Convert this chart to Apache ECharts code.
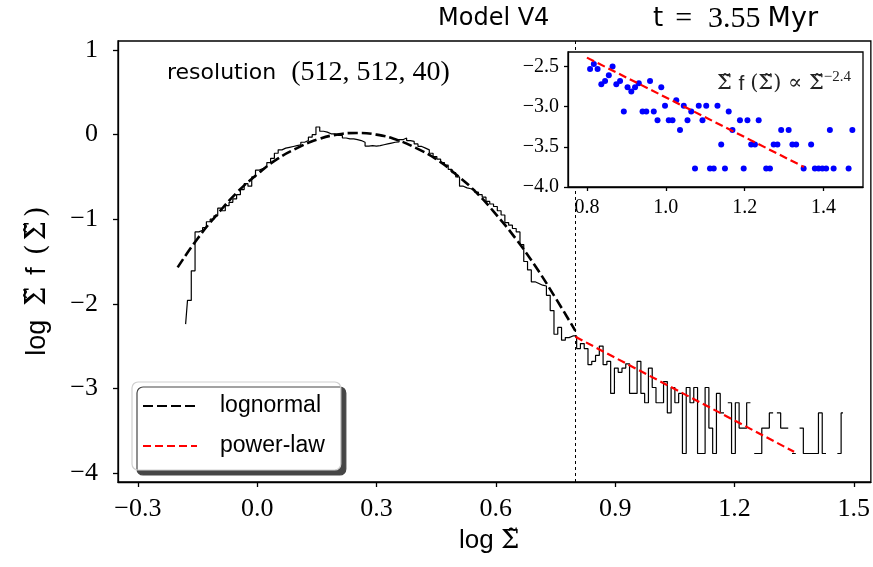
<!DOCTYPE html>
<html><head><meta charset="utf-8">
<script src="https://cdn.jsdelivr.net/npm/echarts@6/dist/echarts.min.js"></script>
<style>html,body{margin:0;padding:0;background:#fff}#c{width:873px;height:567px}</style>
</head><body><div id="c"></div>
<script>
// ---- data ----
const binStart = -0.18;      // centre of first histogram bin (log Sigma)
const binWidth = 0.0095;     // histogram bin width (log Sigma)
const histCore = [
 -2.24,-1.96,-1.61,-1.15,-1.13,-1.10,-1.03,-1.00,-0.96,-0.87,
 -0.90,-0.84,-0.80,-0.76,-0.71,-0.65,-0.58,-0.61,-0.50,-0.42,
 -0.40,-0.38,-0.33,-0.28,-0.22,-0.18,-0.16,-0.15,-0.14,-0.13,
 -0.12,-0.09,-0.07,-0.03,0.00,0.09,0.04,0.03,0.01,0.01,
 -0.01,-0.01,-0.04,-0.05,-0.05,-0.06,-0.07,-0.09,-0.135,-0.13,
 -0.135,-0.13,-0.12,-0.11,-0.10,-0.09,-0.085,-0.06,-0.04,-0.07,
 -0.08,-0.11,-0.14,-0.16,-0.18,-0.22,-0.26,-0.29,-0.33,-0.36,
 -0.41,-0.45,-0.50,-0.61,-0.63,-0.64,-0.65,-0.68,-0.71,-0.74,
 -0.79,-0.82,-0.85,-0.90,-0.95,-1.04,-1.07,-1.11,-1.15,-1.30,
 -1.50,-1.60,-1.74,-1.76,-1.78,-1.79,-1.90,-2.08,-2.36,-2.28,
 -2.43,-2.40,-2.38,-2.38
];
const histTail = [
 -2.53,-2.47,-2.53,-2.72,-2.68,-2.61,-2.50,-2.72,-2.68,-3.06,
 -2.76,-2.81,-2.76,-2.71,-3.06,-3.06,-2.68,-3.06,-3.17,-2.76,
 -2.99,-3.17,-3.17,-2.92,-3.29,-2.99,-3.17,-3.06,-3.77,-2.99,
 -3.17,-2.99,-3.77,-3.77,-2.99,-3.47,-3.77,-3.06,-3.29,null,
 -3.17,-3.77,-3.17,-3.47,-3.47,-3.17,null,-3.77,-3.77,-3.47,
 -3.47,-3.29,null,-3.29,-3.47,-3.47,null,-3.77,null,-3.47,
 -3.77,-3.77,-3.77,-3.77,-3.29,-3.77,null,null,null,-3.77,
 -3.29
];
const lognormalX = [-0.20,-0.15,-0.10,-0.05,0.00,0.05,0.10,0.15,0.20,0.25,0.30,0.35,0.40,0.45,0.50,0.55,0.60,0.65,0.70,0.75,0.80];
const lognormalY = [-1.57,-1.23,-0.94,-0.68,-0.47,-0.29,-0.16,-0.06,0.00,0.02,0.00,-0.06,-0.16,-0.29,-0.47,-0.68,-0.94,-1.23,-1.56,-1.93,-2.32];
const powerLawX = [0.80, 1.35];
const powerLawY = [-2.39, -3.75];
const cutoff = 0.8;
const mainXTicks = [-0.3, 0.0, 0.3, 0.6, 0.9, 1.2, 1.5];
const mainYTicks = [-4, -3, -2, -1, 0, 1];
const insetXTicks = [0.8, 1.0, 1.2, 1.4];
const insetYTicks = [-4.0, -3.5, -3.0, -2.5];

// ---- build ----
const histAll = histCore.concat(histTail);
const histData = histAll.map((v, k) => [binStart + binWidth * k, v === null ? '-' : v]);
const insetData = [];
histTail.forEach((v, n) => {
  if (v !== null) insetData.push([binStart + binWidth * (histCore.length + n), v]);
});
const lognormalData = lognormalX.map((x, i) => [x, lognormalY[i]]);
const powerData = powerLawX.map((x, i) => [x, powerLawY[i]]);

const SERIF = "'Liberation Serif','DejaVu Serif',serif";
const MATH = "'DejaVu Serif',serif";
const SANS = "'Liberation Sans','DejaVu Sans',sans-serif";
const WSANS = "'DejaVu Sans',sans-serif";
const minus = s => s.replace('-', '\u2212');
const f1 = v => minus((Math.round(v * 10) / 10).toFixed(1));
const f0 = v => minus(String(Math.round(v)));
const ST = '\u03A3\u0303';

const axisCommon = (ticks, fmt, size, margin, len) => ({
  type: 'value',
  splitLine: { show: false },
  axisLine: { show: true, onZero: false, lineStyle: { color: '#000', width: 1.3 } },
  axisTick: { show: true, length: len, customValues: ticks, lineStyle: { color: '#000', width: 1.3 } },
  axisLabel: { customValues: ticks, formatter: fmt, fontFamily: SERIF, fontSize: size, color: '#000', margin: margin }
});

const chart = echarts.init(document.getElementById('c'), null, { renderer: 'canvas' });
const option = {
  animation: false,
  backgroundColor: '#fff',
  grid: [
    { left: 118, top: 41, width: 753, height: 441, show: true, borderColor: '#000', borderWidth: 1.3, backgroundColor: 'transparent', z: 0 },
    { left: 568, top: 52, width: 295, height: 135, show: true, borderColor: '#000', borderWidth: 1.3, backgroundColor: '#fff', z: 10 }
  ],
  xAxis: [
    Object.assign(axisCommon(mainXTicks, f1, 26, 14, 5), { gridIndex: 0, min: -0.35, max: 1.543 }),
    Object.assign(axisCommon(insetXTicks, f1, 20, 11, 4), { gridIndex: 1, min: 0.752, max: 1.50, z: 11 })
  ],
  yAxis: [
    Object.assign(axisCommon(mainYTicks, f0, 26, 20, 5), { gridIndex: 0, min: -4.107, max: 1.107 }),
    Object.assign(axisCommon(insetYTicks, f1, 20, 9, 4), { gridIndex: 1, min: -4.0, max: -2.32, z: 11 })
  ],
  legend: {
    data: ['lognormal', 'power-law'],
    orient: 'vertical', left: 132, top: 382,
    backgroundColor: '#fff', borderColor: '#cfcfcf', borderWidth: 1.2, borderRadius: 6,
    shadowColor: 'rgba(70,70,70,1)', shadowOffsetX: 5, shadowOffsetY: 5, shadowBlur: 0,
    padding: [11, 16, 11, 10],
    itemWidth: 54, itemHeight: 14, itemGap: 14,
    itemStyle: { color: 'transparent', borderColor: 'transparent', borderWidth: 0, opacity: 0 },
    textStyle: { fontFamily: SANS, fontSize: 23, color: '#000', padding: [0, 0, 0, 18], lineHeight: 26 }
  },
  series: [
    {
      name: 'hist', type: 'line', xAxisIndex: 0, yAxisIndex: 0, data: histData,
      step: 'middle', symbol: 'none', connectNulls: false, z: 2,
      lineStyle: { color: '#000', width: 1.2 },
      markLine: {
        silent: true, symbol: 'none', label: { show: false }, z: 3,
        lineStyle: { color: '#000', width: 1, type: [3, 3] },
        data: [{ xAxis: cutoff }]
      }
    },
    {
      name: 'lognormal', type: 'line', xAxisIndex: 0, yAxisIndex: 0, data: lognormalData,
      smooth: true, symbol: 'none', z: 3,
      lineStyle: { color: '#000', width: 2.6, type: [10, 4] }
    },
    {
      name: 'power-law', type: 'line', xAxisIndex: 0, yAxisIndex: 0, data: powerData,
      symbol: 'none', z: 3,
      lineStyle: { color: '#ff0000', width: 2.2, type: [8, 4] }
    },
    {
      name: 'insetPoints', type: 'scatter', xAxisIndex: 1, yAxisIndex: 1, data: insetData,
      symbolSize: 6, itemStyle: { color: '#0000ff', opacity: 1 }, z: 12
    },
    {
      name: 'insetPower', type: 'line', xAxisIndex: 1, yAxisIndex: 1, data: powerData,
      symbol: 'none', z: 13,
      lineStyle: { color: '#ff0000', width: 2.2, type: [8, 4] }
    }
  ],
  graphic: [
    { type: 'text', z: 100, left: 438, top: 7,
      style: { text: 'Model V4', fontFamily: WSANS, fontSize: 24, fill: '#000' } },
    { type: 'text', z: 100, left: 653, top: 4,
      style: { text: '{s|t}{m|=}{n|3.55}{u|Myr}', fill: '#000',
        rich: { s: { fontFamily: WSANS, fontSize: 26, padding: [0, 12, 0, 0] },
                m: { fontFamily: SERIF, fontSize: 30, padding: [0, 16, 0, 0] },
                n: { fontFamily: SERIF, fontSize: 30, padding: [0, 7, 0, 0] },
                u: { fontFamily: WSANS, fontSize: 27 } } } },
    { type: 'text', z: 100, left: 167, top: 59,
      style: { text: '{s|resolution}{m|(512, 512, 40)}', fill: '#000',
        rich: { s: { fontFamily: WSANS, fontSize: 22, padding: [0, 15, 0, 0] }, m: { fontFamily: SERIF, fontSize: 28 } } } },
    { type: 'text', z: 100, x: 851, y: 84,
      style: { text: '{m|' + ST + ' }{s|f }{m|(' + ST + ') \u221D ' + ST + '}{p|\u22122.4}', fill: '#222', align: 'right', verticalAlign: 'middle',
        rich: { m: { fontFamily: MATH, fontSize: 21, lineHeight: 28 }, s: { fontFamily: SANS, fontSize: 21, lineHeight: 28 },
                p: { fontFamily: SERIF, fontSize: 15, lineHeight: 28, verticalAlign: 'top' } } } },
    { type: 'text', z: 100, left: 459, top: 528,
      style: { text: '{s|log }{m|' + ST + '}', fill: '#000',
        rich: { s: { fontFamily: SANS, fontSize: 26 }, m: { fontFamily: MATH, fontSize: 26 } } } },
    { type: 'text', z: 100, x: 38, y: 281, rotation: Math.PI / 2,
      style: { text: '{s|log}{m|' + ST + '}{f|f}{p|(}{m|' + ST + '}{q|)}', fill: '#000', align: 'center', verticalAlign: 'middle',
        rich: { s: { fontFamily: SANS, fontSize: 27, padding: [0, 14, 0, 0] },
                m: { fontFamily: MATH, fontSize: 27 },
                f: { fontFamily: SANS, fontSize: 27, padding: [0, 12, 0, 12] },
                p: { fontFamily: MATH, fontSize: 28, padding: [0, 4, 0, 0] },
                q: { fontFamily: MATH, fontSize: 28, padding: [0, 0, 0, 4] } } } }
  ]
};
chart.setOption(option);
</script></body></html>
